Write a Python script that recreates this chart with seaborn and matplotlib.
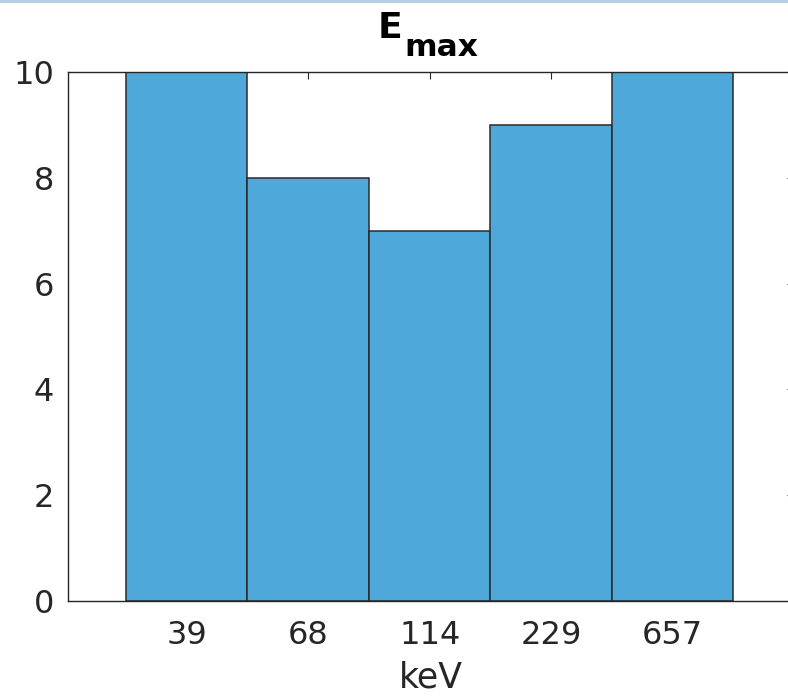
import matplotlib
matplotlib.use("Agg")
import matplotlib.pyplot as plt
from matplotlib.patches import Rectangle
import seaborn as sns
import pandas as pd

# Histogram of maximum energy per bin
energy_labels = ["39", "68", "114", "229", "657"]
counts = [10, 8, 7, 9, 10]
y_ticks = [0, 2, 4, 6, 8, 10]

sns.set_style("white")
plt.rcParams["font.family"] = ["DejaVu Sans"]

W, H, DPI = 788, 699, 100
fig = plt.figure(figsize=(W / DPI, H / DPI), dpi=DPI)
fig.patch.set_facecolor("white")

# thin window strip along the top edge
fig.patches.append(Rectangle((0, 1 - 3 / H), 1, 3 / H, transform=fig.transFigure,
                             facecolor="#b9cfe6", edgecolor="none", zorder=10))

left, right, bottom, top = 68, 794, 601, 72
ax = fig.add_axes([left / W, 1 - bottom / H, (right - left) / W, (bottom - top) / H])

df = pd.DataFrame({"energy": energy_labels, "count": counts})
sns.barplot(data=df, x="energy", y="count", order=energy_labels, width=1.0,
            color="#4fa8da", saturation=1, edgecolor="#2a2a2a", linewidth=1.1, ax=ax)

ink = "#262626"
ax.set_xlim(-0.978, len(energy_labels))
ax.set_ylim(0, 10)
ax.set_yticks(y_ticks)
ax.set_yticklabels([str(v) for v in y_ticks])
for s in ax.spines.values():
    s.set_visible(True)
    s.set_color(ink)
    s.set_linewidth(1.0)
ax.tick_params(direction="in", top=True, right=True, length=5, width=0.8,
               colors=ink, labelsize=23)
ax.tick_params(axis="y", pad=10)
ax.tick_params(axis="x", pad=13.5)
ax.set_xlabel("keV", fontsize=25, color=ink, labelpad=7)
ax.set_ylabel("")

# title: bold E with a bold "max" subscript
fig.text(402 / W, 1 - 38.5 / H, "E", fontsize=26, fontweight="bold", color="black",
         ha="right", va="baseline")
fig.text(404 / W, 1 - 56.5 / H, "max", fontsize=22.5, fontweight="bold", color="black",
         ha="left", va="baseline")

fig.savefig("out.png", dpi=DPI)
